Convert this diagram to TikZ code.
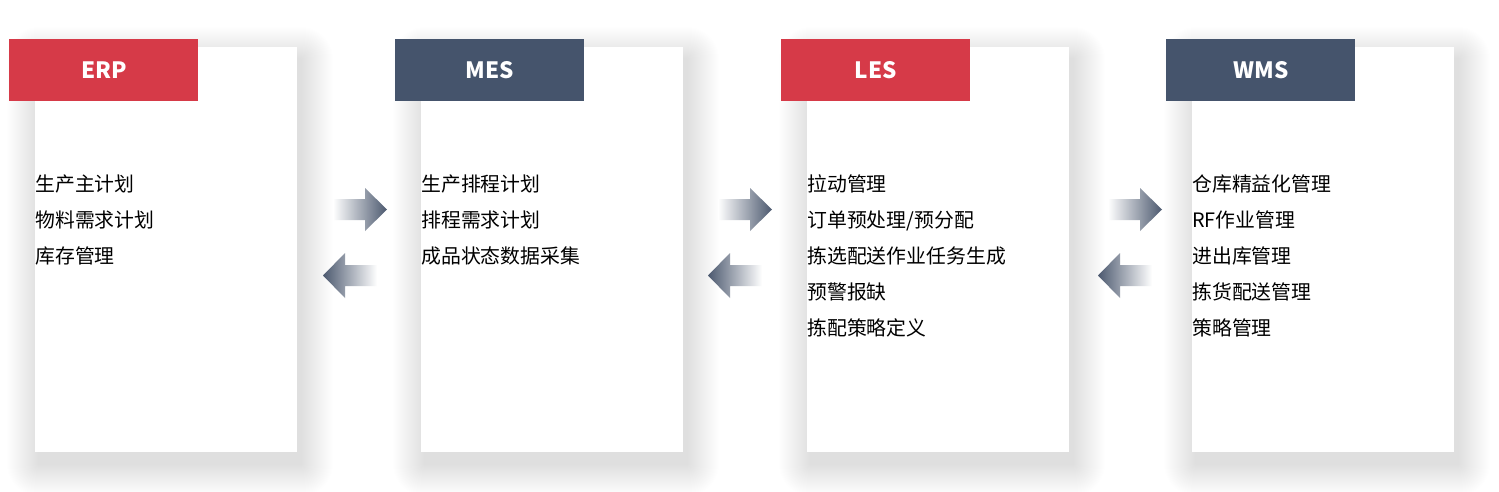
\documentclass[tikz,border=0pt]{standalone}
\usepackage{fontspec}
\setmainfont{Noto Sans CJK SC}
\usetikzlibrary{positioning}
\definecolor{erpred}{HTML}{D63A48}
\definecolor{mesblue}{HTML}{45546C}
\definecolor{arrowgray}{HTML}{4C596F}
\tikzset{
  card/.style={fill=white, minimum width=5.24cm, minimum height=8.1cm, anchor=north west, inner sep=0},
  head/.style={minimum width=3.78cm, minimum height=1.24cm, anchor=north west, inner sep=0, text=white, font=\bfseries\fontsize{12.8}{14}\selectfont},
  item/.style={anchor=base west, inner sep=0, font=\fontsize{11.3}{13}\selectfont},
}
% gradient arrows between the cards
\newcommand{\pusharrow}[1]{%
  \shade[left color=white, right color=arrowgray]
    (#1,199) -- (#1+32,199) -- (#1+32,188) -- (#1+54,209.5) -- (#1+32,231) -- (#1+32,220) -- (#1,220) -- cycle;}
\newcommand{\pullarrow}[1]{%
  \shade[left color=arrowgray, right color=white]
    (#1+54,265) -- (#1+22,265) -- (#1+22,253) -- (#1,275.5) -- (#1+22,298) -- (#1+22,286) -- (#1+54,286) -- cycle;}

\begin{document}
\begin{tikzpicture}[x=0.02cm, y=-0.02cm]
  \useasboundingbox[fill=white] (0,0) rectangle (1499,491);
  % soft shadows
  \foreach \x in {35,421,807,1192}
    \foreach \s in {1,...,32}
      \fill[black, opacity=0.0022, rounded corners=\s*0.02cm]
        (\x-\s+4, 47-\s+12) rectangle (\x+262+\s+4, 452+\s+12);

  \node[card] (erp) at (35,47) {};
  \node[card] (mes) at (421,47) {};
  \node[card] (les) at (807,47) {};
  \node[card] (wms) at (1192,47) {};

  \node[head, fill=erpred] (erphead) at (9,39) {ERP};
  \node[head, fill=mesblue] (meshead) at (395,39) {MES};
  \node[head, fill=erpred] (leshead) at (781,39) {LES};
  \node[head, fill=mesblue] (wmshead) at (1166,39) {WMS};

  \node[item] (erp1) at (35,191) {生产主计划};
  \node[item] (erp2) at (35,227) {物料需求计划};
  \node[item] (erp3) at (35,263) {库存管理};

  \node[item] (mes1) at (421,191) {生产排程计划};
  \node[item] (mes2) at (421,227) {排程需求计划};
  \node[item] (mes3) at (421,263) {成品状态数据采集};

  \node[item] (les1) at (807,191) {拉动管理};
  \node[item] (les2) at (807,227) {订单预处理/预分配};
  \node[item] (les3) at (807,263) {拣选配送作业任务生成};
  \node[item] (les4) at (807,299) {预警报缺};
  \node[item] (les5) at (807,335) {拣配策略定义};

  \node[item] (wms1) at (1192,191) {仓库精益化管理};
  \node[item] (wms2) at (1192,227) {RF作业管理};
  \node[item] (wms3) at (1192,263) {进出库管理};
  \node[item] (wms4) at (1192,299) {拣货配送管理};
  \node[item] (wms5) at (1192,335) {策略管理};

  \pusharrow{333} \pullarrow{323}
  \pusharrow{718} \pullarrow{708}
  \pusharrow{1108} \pullarrow{1098}
\end{tikzpicture}
\end{document}
